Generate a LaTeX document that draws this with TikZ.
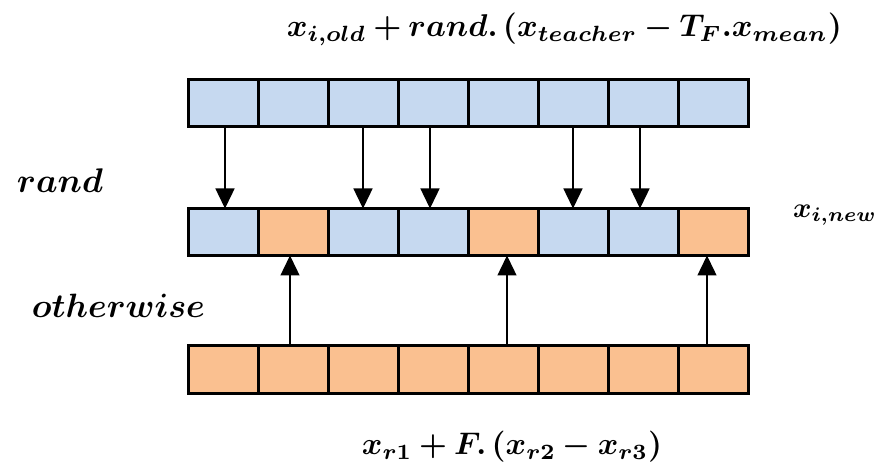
\documentclass[tikz,border=0pt]{standalone}
\usepackage{graphicx}
\usepackage{bm}
\usetikzlibrary{arrows.meta}
\definecolor{cblue}{RGB}{198,217,240}
\definecolor{corange}{RGB}{250,192,144}
\tikzset{
  cell/.style={draw=black, line width=3pt, minimum width=70pt, minimum height=47pt, inner sep=0pt, outer sep=0pt},
  bcell/.style={cell, fill=cblue},
  ocell/.style={cell, fill=corange},
  arr/.style={line width=1.4pt, -{Triangle[width=19pt,length=20pt]}},
  lbl/.style={inner sep=0pt},
}
\begin{document}
\begin{tikzpicture}[x=1pt,y=-1pt]
\useasboundingbox (0,0) rectangle (881,470);
\foreach \i in {1,...,8} {
  \node[bcell] (t\i) at (153+70*\i,103.5) {};
  \node[ocell] (b\i) at (153+70*\i,369.5) {};
}
\foreach \i/\s in {1/bcell,2/ocell,3/bcell,4/bcell,5/ocell,6/bcell,7/bcell,8/ocell} {
  \node[\s] (m\i) at (153+70*\i,232) {};
}
% down arrows
\draw[arr] ([xshift=2pt]t1.south) -- ([xshift=2pt]m1.north);
\draw[arr] (t3.south) -- (m3.north);
\draw[arr] ([xshift=-3pt]t4.south) -- ([xshift=-3pt]m4.north);
\draw[arr] (t6.south) -- (m6.north);
\draw[arr] ([xshift=-3pt]t7.south) -- ([xshift=-3pt]m7.north);
% up arrows
\draw[arr] ([xshift=-3pt]b2.north) -- ([xshift=-3pt]m2.south);
\draw[arr] ([xshift=4pt]b5.north) -- ([xshift=4pt]m5.south);
\draw[arr] ([xshift=-6pt]b8.north) -- ([xshift=-6pt]m8.south);
% labels
\node[lbl] (top) at (564.5,29) {\resizebox{555pt}{!}{$\bm{x_{i,old}+rand.\left(x_{teacher}-T_F.x_{mean}\right)}$}};
\node[lbl] (bot) at (512,447) {\resizebox{300pt}{!}{$\bm{x_{r1}+F.\left(x_{r2}-x_{r3}\right)}$}};
\node[lbl] (new) at (835,215) {\resizebox{84pt}{!}{$\bm{x_{i,new}}$}};
\node[lbl] (rand) at (60,181) {\resizebox{86pt}{!}{$\bm{rand}$}};
\node[lbl] (oth) at (118.5,306) {\resizebox{173pt}{!}{$\bm{otherwise}$}};
\end{tikzpicture}
\end{document}
